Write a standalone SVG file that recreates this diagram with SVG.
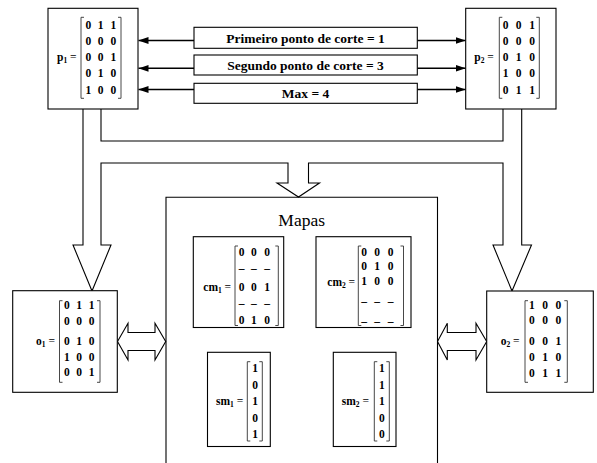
<svg xmlns="http://www.w3.org/2000/svg" width="597" height="463" viewBox="0 0 597 463">
  <style>
    .box { fill: #fff; stroke: #000; stroke-width: 1.1; }
    .hollow { fill: #fff; stroke: #000; stroke-width: 1.1; stroke-linejoin: miter; }
    .open { fill: none; stroke: #000; stroke-width: 1.1; }
    .brk { fill: none; stroke: #333; stroke-width: 0.9; }
    .d { font-family: "Liberation Serif", "Times New Roman", serif; font-weight: bold; font-size: 11.5px; text-anchor: middle; fill: #000; }
    .lbl { font-family: "Liberation Serif", "Times New Roman", serif; font-weight: bold; font-size: 11.5px; fill: #000; }
    .sub { font-size: 7.5px; }
    .eq { font-weight: normal; }
    .cap { font-family: "Liberation Serif", "Times New Roman", serif; font-weight: bold; font-size: 13.5px; text-anchor: middle; fill: #000; }
    .title { font-family: "Liberation Serif", "Times New Roman", serif; font-size: 17.5px; text-anchor: middle; fill: #000; }
    .arr { stroke: #000; stroke-width: 1.6; fill: none; }
  </style>
  <defs>
    <marker id="head" markerUnits="userSpaceOnUse" markerWidth="10" markerHeight="8" refX="10" refY="4" orient="auto">
      <path d="M0,0.6 L10,4 L0,7.4 z" fill="#000"/>
    </marker>
  </defs>

  <!-- connectors: wide hollow arrows and cut-point arrows -->
  <g id="connectors">
    <path class="open" d="M101,109 V141 H503 V109"/>
    <path class="open" d="M83,109 V245 H73 L92,291 L111,245 H101 V163 H288 V183 H277 L298.5,197 L319.5,183 H308.5 V163 H503 V245 H493 L512,291 L531.5,245 H521.7 V109"/>
    <polygon class="hollow" points="117.5,341.5 128,323.3 128,332.5 155,332.5 155,323.3 165.7,341.5 155,360 155,350.5 128,350.5 128,360"/>
    <polygon class="hollow" points="437.5,341.5 447.3,323.3 447.3,332.5 476,332.5 476,323.3 486.7,341.5 476,360 476,350.5 447.3,350.5 447.3,360"/>
    <line class="arr" x1="194" y1="40.5" x2="138.5" y2="40.5" marker-end="url(#head)"/>
    <line class="arr" x1="417.3" y1="40.5" x2="465.7" y2="40.5" marker-end="url(#head)"/>
    <line class="arr" x1="194" y1="68.3" x2="138.5" y2="68.3" marker-end="url(#head)"/>
    <line class="arr" x1="417.3" y1="68.3" x2="465.7" y2="68.3" marker-end="url(#head)"/>
    <line class="arr" x1="194" y1="89.5" x2="138.5" y2="89.5" marker-end="url(#head)"/>
    <line class="arr" x1="417.3" y1="89.5" x2="465.7" y2="89.5" marker-end="url(#head)"/>
  </g>

  <!-- cut-point labels -->
  <g id="corte1">
    <rect class="box" x="194" y="27.3" width="223.3" height="21"/>
    <text class="cap" x="305.5" y="42.6">Primeiro ponto de corte = 1</text>
  </g>
  <g id="corte2">
    <rect class="box" x="194" y="55" width="223.3" height="20"/>
    <text class="cap" x="305.5" y="70">Segundo ponto de corte = 3</text>
  </g>
  <g id="max">
    <rect class="box" x="194" y="83.3" width="223.3" height="20"/>
    <text class="cap" x="305.5" y="98.3">Max = 4</text>
  </g>

  <!-- parent p1 -->
  <g id="p1">
    <rect class="box" x="48" y="8.3" width="90" height="100.7"/>
    <text class="lbl" x="57" y="61">p<tspan class="sub" dy="2">1</tspan><tspan class="eq" dy="-2"> =</tspan></text>
    <path class="brk" d="M84,17.3 H81 V98.3 H84 M118,17.3 H121 V98.3 H118"/>
    <text class="d" y="28.5"><tspan x="88.3">0</tspan><tspan x="100.7">1</tspan><tspan x="113.3">1</tspan></text>
    <text class="d" y="45"><tspan x="88.3">0</tspan><tspan x="100.7">0</tspan><tspan x="113.3">0</tspan></text>
    <text class="d" y="61"><tspan x="88.3">0</tspan><tspan x="100.7">0</tspan><tspan x="113.3">1</tspan></text>
    <text class="d" y="76.8"><tspan x="88.3">0</tspan><tspan x="100.7">1</tspan><tspan x="113.3">0</tspan></text>
    <text class="d" y="93.5"><tspan x="88.3">1</tspan><tspan x="100.7">0</tspan><tspan x="113.3">0</tspan></text>
  </g>

  <!-- parent p2 -->
  <g id="p2">
    <rect class="box" x="465.7" y="8.3" width="90.3" height="100.7"/>
    <text class="lbl" x="474.3" y="61">p<tspan class="sub" dy="2">2</tspan><tspan class="eq" dy="-2"> =</tspan></text>
    <path class="brk" d="M502.3,17.3 H499.3 V98.3 H502.3 M536.3,17.3 H539.3 V98.3 H536.3"/>
    <text class="d" y="28.5"><tspan x="505.5">0</tspan><tspan x="518.5">0</tspan><tspan x="532">1</tspan></text>
    <text class="d" y="45"><tspan x="505.5">0</tspan><tspan x="518.5">0</tspan><tspan x="532">0</tspan></text>
    <text class="d" y="61"><tspan x="505.5">0</tspan><tspan x="518.5">1</tspan><tspan x="532">0</tspan></text>
    <text class="d" y="77.3"><tspan x="505.5">1</tspan><tspan x="518.5">0</tspan><tspan x="532">0</tspan></text>
    <text class="d" y="93.5"><tspan x="505.5">0</tspan><tspan x="518.5">1</tspan><tspan x="532">1</tspan></text>
  </g>

  <!-- offspring o1 -->
  <g id="o1">
    <rect class="box" x="12.7" y="290.7" width="104.6" height="101.6"/>
    <text class="lbl" x="36" y="345">o<tspan class="sub" dy="2">1</tspan><tspan class="eq" dy="-2"> =</tspan></text>
    <path class="brk" d="M62.5,300.7 H59.5 V382.3 H62.5 M97,300.7 H100 V382.3 H97"/>
    <text class="d" y="309.3"><tspan x="66.8">0</tspan><tspan x="79">1</tspan><tspan x="91.7">1</tspan></text>
    <text class="d" y="324.5"><tspan x="66.8">0</tspan><tspan x="79">0</tspan><tspan x="91.7">0</tspan></text>
    <text class="d" y="344.8"><tspan x="66.8">0</tspan><tspan x="79">1</tspan><tspan x="91.7">0</tspan></text>
    <text class="d" y="361"><tspan x="66.8">1</tspan><tspan x="79">0</tspan><tspan x="91.7">0</tspan></text>
    <text class="d" y="376.3"><tspan x="66.8">0</tspan><tspan x="79">0</tspan><tspan x="91.7">1</tspan></text>
  </g>

  <!-- offspring o2 -->
  <g id="o2">
    <rect class="box" x="486.7" y="291" width="106.6" height="101.3"/>
    <text class="lbl" x="500.7" y="345">o<tspan class="sub" dy="2">2</tspan><tspan class="eq" dy="-2"> =</tspan></text>
    <path class="brk" d="M528,300.7 H525 V382.3 H528 M564.3,300.7 H567.3 V382.3 H564.3"/>
    <text class="d" y="309"><tspan x="531.8">1</tspan><tspan x="545">0</tspan><tspan x="558.3">0</tspan></text>
    <text class="d" y="324"><tspan x="531.8">0</tspan><tspan x="545">0</tspan><tspan x="558.3">0</tspan></text>
    <text class="d" y="344.8"><tspan x="531.8">0</tspan><tspan x="545">0</tspan><tspan x="558.3">1</tspan></text>
    <text class="d" y="361.3"><tspan x="531.8">0</tspan><tspan x="545">1</tspan><tspan x="558.3">0</tspan></text>
    <text class="d" y="376.5"><tspan x="531.8">0</tspan><tspan x="545">1</tspan><tspan x="558.3">1</tspan></text>
  </g>

  <!-- maps container, open at the bottom -->
  <g id="mapas">
    <path class="open" d="M166,463 V197.3 H437.5 V463"/>
    <text class="title" x="301.7" y="226">Mapas</text>
  </g>

  <!-- map cm1 -->
  <g id="cm1">
    <rect class="box" x="193.3" y="236.7" width="90.4" height="90.8"/>
    <text class="lbl" x="203.3" y="290.8">cm<tspan class="sub" dy="2">1</tspan><tspan class="eq" dy="-2"> =</tspan></text>
    <path class="brk" d="M238,246 H235 V325.5 H238 M275.3,246 H278.3 V325.5 H275.3"/>
    <text class="d" y="255.8"><tspan x="241.7">0</tspan><tspan x="253.8">0</tspan><tspan x="267">0</tspan></text>
    <text class="d" y="272.3"><tspan x="241.7">–</tspan><tspan x="253.8">–</tspan><tspan x="267">–</tspan></text>
    <text class="d" y="291.3"><tspan x="241.7">0</tspan><tspan x="253.8">0</tspan><tspan x="267">1</tspan></text>
    <text class="d" y="307.3"><tspan x="241.7">–</tspan><tspan x="253.8">–</tspan><tspan x="267">–</tspan></text>
    <text class="d" y="324.3"><tspan x="241.7">0</tspan><tspan x="253.8">1</tspan><tspan x="267">0</tspan></text>
  </g>

  <!-- map cm2 -->
  <g id="cm2">
    <rect class="box" x="316" y="236.7" width="95" height="90.8"/>
    <text class="lbl" x="327.3" y="285.5">cm<tspan class="sub" dy="2">2</tspan><tspan class="eq" dy="-2"> =</tspan></text>
    <path class="brk" d="M361.3,246 H358.3 V325.5 H361.3 M400.5,246 H403.5 V325.5 H400.5"/>
    <text class="d" y="255.8"><tspan x="364">0</tspan><tspan x="377">0</tspan><tspan x="390.5">0</tspan></text>
    <text class="d" y="270.3"><tspan x="364">0</tspan><tspan x="377">1</tspan><tspan x="390.5">0</tspan></text>
    <text class="d" y="284.8"><tspan x="364">1</tspan><tspan x="377">0</tspan><tspan x="390.5">0</tspan></text>
    <text class="d" y="305"><tspan x="364">–</tspan><tspan x="377">–</tspan><tspan x="390.5">–</tspan></text>
    <text class="d" y="324.5"><tspan x="364">–</tspan><tspan x="377">–</tspan><tspan x="390.5">–</tspan></text>
  </g>

  <!-- map sm1 -->
  <g id="sm1">
    <rect class="box" x="207.5" y="352.3" width="62.8" height="94.2"/>
    <text class="lbl" x="216" y="404.5">sm<tspan class="sub" dy="2">1</tspan><tspan class="eq" dy="-2"> =</tspan></text>
    <path class="brk" d="M250.3,361.7 H247.3 V441 H250.3 M259.3,361.7 H262.3 V441 H259.3"/>
    <text class="d" x="255" y="372">1</text>
    <text class="d" x="255" y="388.5">0</text>
    <text class="d" x="255" y="405">1</text>
    <text class="d" x="255" y="421.5">0</text>
    <text class="d" x="255" y="438">1</text>
  </g>

  <!-- map sm2 -->
  <g id="sm2">
    <rect class="box" x="333.3" y="352.3" width="62.7" height="94.2"/>
    <text class="lbl" x="341.7" y="404.5">sm<tspan class="sub" dy="2">2</tspan><tspan class="eq" dy="-2"> =</tspan></text>
    <path class="brk" d="M377.3,361.7 H374.3 V441 H377.3 M386.3,361.7 H389.3 V441 H386.3"/>
    <text class="d" x="381.8" y="372">1</text>
    <text class="d" x="381.8" y="388.5">1</text>
    <text class="d" x="381.8" y="405">1</text>
    <text class="d" x="381.8" y="421.5">0</text>
    <text class="d" x="381.8" y="438">0</text>
  </g>
</svg>
